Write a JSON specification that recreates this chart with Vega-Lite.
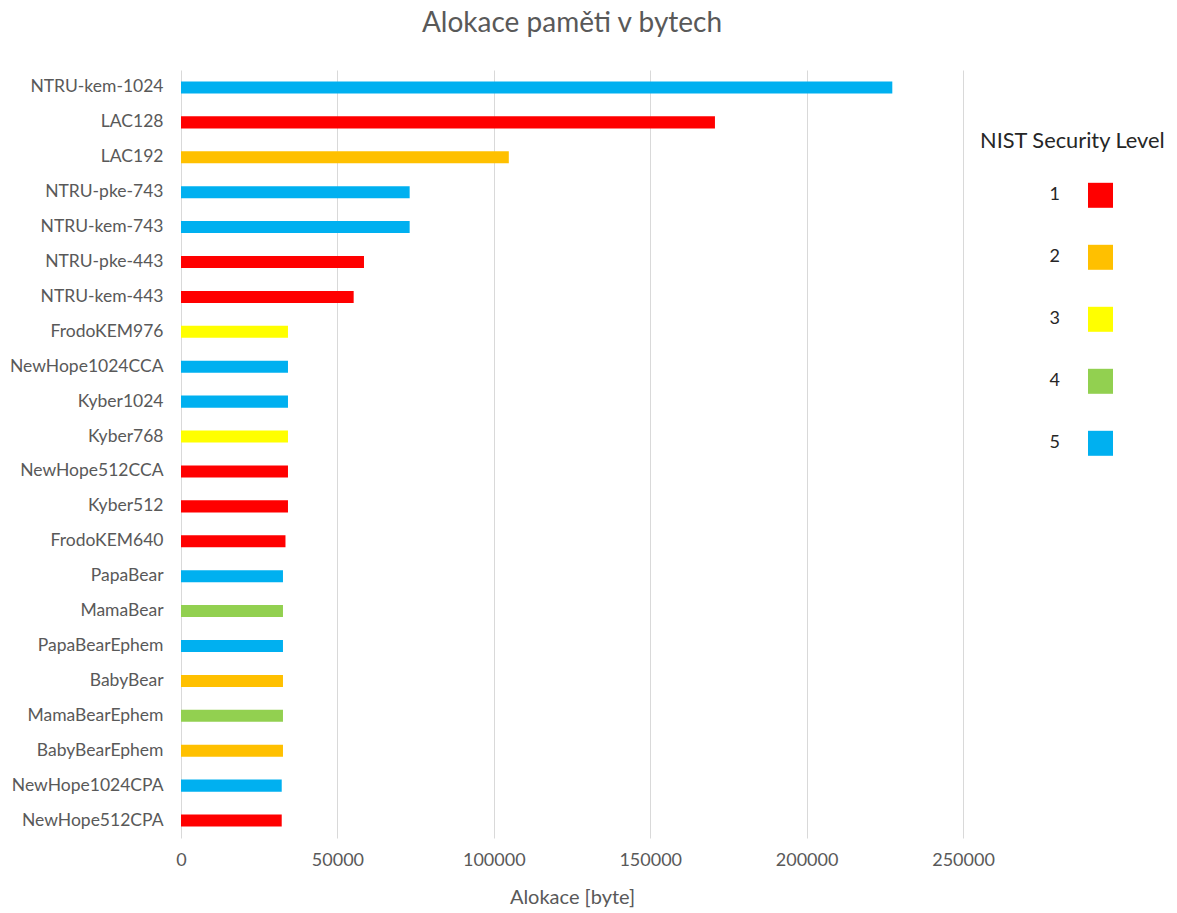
{
  "$schema": "https://vega.github.io/schema/vega-lite/v6.json",
  "autosize": {"type": "none"},
  "padding": {"left": 181, "top": 70, "right": 214, "bottom": 75},
  "width": 782,
  "height": 768,
  "background": "white",
  "title": {
    "text": "Alokace paměti v bytech",
    "font": "Lato",
    "fontSize": 28,
    "fontWeight": "normal",
    "color": "#595959",
    "anchor": "middle",
    "baseline": "alphabetic",
    "offset": 10
  },
  "data": {
    "values": [
      {"algorithm": "NTRU-kem-1024", "alloc": 227400, "level": "5"},
      {"algorithm": "LAC128", "alloc": 170700, "level": "1"},
      {"algorithm": "LAC192", "alloc": 104800, "level": "2"},
      {"algorithm": "NTRU-pke-743", "alloc": 73100, "level": "5"},
      {"algorithm": "NTRU-kem-743", "alloc": 73100, "level": "5"},
      {"algorithm": "NTRU-pke-443", "alloc": 58500, "level": "1"},
      {"algorithm": "NTRU-kem-443", "alloc": 55200, "level": "1"},
      {"algorithm": "FrodoKEM976", "alloc": 34200, "level": "3"},
      {"algorithm": "NewHope1024CCA", "alloc": 34200, "level": "5"},
      {"algorithm": "Kyber1024", "alloc": 34200, "level": "5"},
      {"algorithm": "Kyber768", "alloc": 34200, "level": "3"},
      {"algorithm": "NewHope512CCA", "alloc": 34200, "level": "1"},
      {"algorithm": "Kyber512", "alloc": 34200, "level": "1"},
      {"algorithm": "FrodoKEM640", "alloc": 33400, "level": "1"},
      {"algorithm": "PapaBear", "alloc": 32600, "level": "5"},
      {"algorithm": "MamaBear", "alloc": 32600, "level": "4"},
      {"algorithm": "PapaBearEphem", "alloc": 32600, "level": "5"},
      {"algorithm": "BabyBear", "alloc": 32600, "level": "2"},
      {"algorithm": "MamaBearEphem", "alloc": 32600, "level": "4"},
      {"algorithm": "BabyBearEphem", "alloc": 32600, "level": "2"},
      {"algorithm": "NewHope1024CPA", "alloc": 32200, "level": "5"},
      {"algorithm": "NewHope512CPA", "alloc": 32200, "level": "1"}
    ]
  },
  "mark": {"type": "bar"},
  "encoding": {
    "y": {
      "field": "algorithm",
      "type": "nominal",
      "sort": null,
      "scale": {"paddingInner": 0.655, "paddingOuter": 0.3275},
      "axis": {
        "title": null,
        "domain": false,
        "ticks": false,
        "grid": false,
        "labelFont": "Lato",
        "labelFontSize": 17.5,
        "labelColor": "#595959",
        "labelPadding": 18
      }
    },
    "x": {
      "field": "alloc",
      "type": "quantitative",
      "scale": {"domain": [0, 250000], "nice": false},
      "axis": {
        "title": "Alokace [byte]",
        "titleFont": "Lato",
        "titleFontSize": 20,
        "titleFontWeight": "normal",
        "titleColor": "#595959",
        "titlePadding": 18,
        "values": [0, 50000, 100000, 150000, 200000, 250000],
        "format": "d",
        "domain": false,
        "ticks": false,
        "grid": true,
        "gridColor": "#d9d9d9",
        "gridWidth": 1,
        "labelFont": "Lato",
        "labelFontSize": 18,
        "labelColor": "#595959",
        "labelPadding": 13,
        "labelFlush": false
      }
    },
    "color": {
      "field": "level",
      "type": "nominal",
      "scale": {
        "domain": ["1", "2", "3", "4", "5"],
        "range": ["#FF0000", "#FFC000", "#FFFF00", "#92D050", "#00B0F0"]
      },
      "legend": {
        "title": "NIST Security Level",
        "orient": "none",
        "legendX": 799,
        "legendY": 61,
        "titleFont": "Lato",
        "titleFontSize": 21.8,
        "titleFontWeight": "normal",
        "titleColor": "#262626",
        "titleLimit": 300,
        "titlePadding": 30,
        "symbolType": "square",
        "symbolSize": 625,
        "symbolStrokeWidth": 0,
        "symbolOpacity": 1,
        "symbolOffset": 108,
        "labelAlign": "right",
        "labelOffset": -53,
        "labelFont": "Lato",
        "labelFontSize": 18,
        "labelColor": "#262626",
        "rowPadding": 37
      }
    }
  },
  "config": {
    "view": {"stroke": null}
  }
}
